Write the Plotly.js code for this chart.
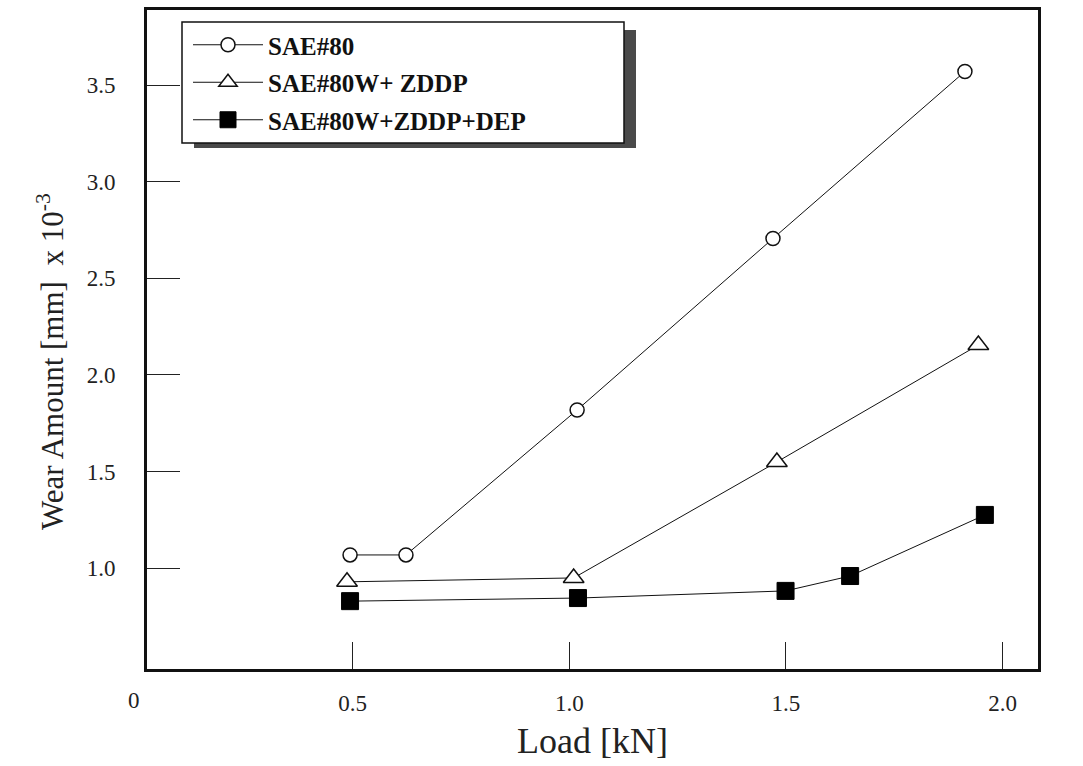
<!DOCTYPE html>
<html>
<head>
<meta charset="utf-8">
<script src="https://cdn.plot.ly/plotly-3.0.1.min.js"></script>
<style>html,body{margin:0;padding:0;background:#fff;}#chart{width:1083px;height:766px;}</style>
</head>
<body>
<div id="chart"></div>
<script>
// Data
var seriesNames = ["SAE#80", "SAE#80W+ ZDDP", "SAE#80W+ZDDP+DEP"];
var loadSAE80 = [0.494, 0.623, 1.018, 1.470, 1.913];
var wearSAE80 = [1.069, 1.069, 1.819, 2.706, 3.570];
var loadZDDP = [0.487, 1.010, 1.479, 1.944];
var wearZDDP = [0.930, 0.950, 1.550, 2.155];
var loadDEP = [0.494, 1.020, 1.499, 1.648, 1.959];
var wearDEP = [0.830, 0.846, 0.883, 0.960, 1.276];
var xTickVals = [0.5, 1.0, 1.5, 2.0];
var xTickText = ["0.5", "1.0", "1.5", "2.0"];
var yTickVals = [1.0, 1.5, 2.0, 2.5, 3.0, 3.5];
var yTickText = ["1.0", "1.5", "2.0", "2.5", "3.0", "3.5"];
var xTitle = "Load [kN]";
var yTitle = "Wear Amount [mm]  x 10<sup>-3</sup>";

var W = 1083, H = 766;
var mL = 147, mR = 45, mT = 10, mB = 97;
var pw = W - mL - mR, ph = H - mT - mB;
function px(x){ return (x - mL) / pw; }
function py(y){ return 1 - (y - mT) / ph; }

var serif = "Liberation Serif, Times New Roman, serif";

var traces = [
  {x: loadSAE80, y: wearSAE80, name: seriesNames[0], legendgroup: "a", mode: "lines+markers", type: "scatter",
   line: {color: "#111", width: 1},
   marker: {symbol: "circle", size: 14, color: "#fff", line: {color: "#111", width: 1.5}}},
  {x: loadZDDP, y: wearZDDP, name: seriesNames[1], legendgroup: "b", mode: "lines+markers", type: "scatter",
   line: {color: "#111", width: 1},
   marker: {symbol: "triangle-up", size: 18, color: "#fff", line: {color: "#111", width: 1.5}}},
  {x: loadDEP, y: wearDEP, name: seriesNames[2], legendgroup: "c", mode: "lines+markers", type: "scatter",
   line: {color: "#111", width: 1},
   marker: {symbol: "square", size: 17, color: "#000", line: {color: "#000", width: 1}}}
];

var layout = {
  width: W, height: H,
  margin: {l: mL, r: mR, t: mT, b: mB},
  paper_bgcolor: "#fff", plot_bgcolor: "#fff",
  font: {family: serif, color: "#222"},
  showlegend: true,
  legend: {
    x: px(188), y: py(22), xanchor: "left", yanchor: "top",
    bgcolor: "rgba(0,0,0,0)", borderwidth: 0,
    font: {family: serif, size: 25, color: "#111", weight: "bold"},
    tracegroupgap: 2, itemwidth: 70
  },
  xaxis: {
    range: [0.0254, 2.0816],
    tickvals: xTickVals, ticktext: xTickText,
    ticks: "inside", ticklen: 27, tickwidth: 1, tickcolor: "#222",
    showline: true, linewidth: 3, linecolor: "#111", mirror: true,
    showgrid: false, zeroline: false,
    tickfont: {family: serif, size: 23, color: "#222"},
    ticklabelstandoff: 11,
    title: {text: xTitle, font: {family: serif, size: 36, color: "#222"}, standoff: 14}
  },
  yaxis: {
    range: [0.479, 3.888],
    tickvals: yTickVals, ticktext: yTickText,
    ticks: "inside", ticklen: 33, tickwidth: 1, tickcolor: "#222",
    showline: true, linewidth: 3, linecolor: "#111", mirror: true,
    showgrid: false, zeroline: false,
    tickfont: {family: serif, size: 23, color: "#222"},
    ticklabelstandoff: 24
  },
  shapes: [
    {type: "rect", xref: "paper", yref: "paper", x0: px(194), x1: px(636), y0: py(30), y1: py(148),
     fillcolor: "#4a4a4a", line: {width: 0}, layer: "above"},
    {type: "rect", xref: "paper", yref: "paper", x0: px(182), x1: px(624), y0: py(22), y1: py(143),
     fillcolor: "#fff", line: {color: "#111", width: 1.5}, layer: "above"}
  ],
  annotations: [
    {text: "0", xref: "paper", yref: "paper", x: px(134), y: py(700), xanchor: "center", yanchor: "middle",
     showarrow: false, font: {family: serif, size: 23, color: "#222"}},
    {text: yTitle, xref: "paper", yref: "paper", x: px(50), y: py(362), xanchor: "center", yanchor: "middle",
     textangle: -90, showarrow: false, font: {family: serif, size: 31, color: "#222"}}
  ]
};

Plotly.newPlot("chart", traces, layout, {displayModeBar: false, staticPlot: true});
</script>
</body>
</html>
